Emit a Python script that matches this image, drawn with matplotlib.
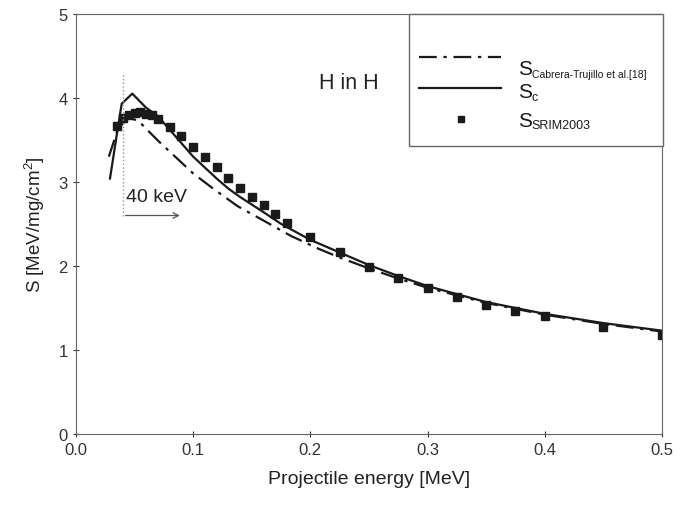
import numpy as np
import matplotlib
matplotlib.use('Agg')
from matplotlib import pyplot as plt
from matplotlib.patches import Rectangle

plt.rcParams['font.family'] = ['Liberation Sans', 'DejaVu Sans']
plt.rcParams['mathtext.fontset'] = 'custom'
plt.rcParams['mathtext.rm'] = 'Liberation Sans'

# S_c (solid)
e_sc = [0.029, 0.036, 0.039, 0.048, 0.06, 0.07, 0.08, 0.09, 0.1, 0.11, 0.12, 0.13,
        0.14, 0.15, 0.16, 0.175, 0.2, 0.225, 0.25, 0.275, 0.3, 0.35, 0.4, 0.45, 0.5]
s_sc = [3.04, 3.67, 3.93, 4.05, 3.88, 3.78, 3.62, 3.46, 3.30, 3.17, 3.04, 2.92,
        2.82, 2.73, 2.64, 2.50, 2.31, 2.16, 2.01, 1.88, 1.76, 1.57, 1.43, 1.32, 1.23]

# Cabrera-Trujillo et al. (dash-dot)
e_ct = [0.028, 0.036, 0.045, 0.053, 0.06, 0.07, 0.08, 0.09, 0.1, 0.117, 0.138, 0.16,
        0.183, 0.206, 0.225, 0.25, 0.275, 0.3, 0.35, 0.4, 0.45, 0.5]
s_ct = [3.30, 3.64, 3.76, 3.73, 3.63, 3.49, 3.36, 3.23, 3.10, 2.92, 2.71, 2.54,
        2.36, 2.21, 2.10, 1.97, 1.85, 1.74, 1.56, 1.42, 1.31, 1.22]

# SRIM2003 (squares)
e_srim = [0.035, 0.04, 0.045, 0.05, 0.055, 0.06, 0.065, 0.07, 0.08, 0.09, 0.1, 0.11,
          0.12, 0.13, 0.14, 0.15, 0.16, 0.17, 0.18, 0.2, 0.225, 0.25, 0.275, 0.3,
          0.325, 0.35, 0.375, 0.4, 0.45, 0.5]
s_srim = [3.67, 3.76, 3.80, 3.82, 3.83, 3.81, 3.79, 3.75, 3.65, 3.55, 3.42, 3.30,
          3.18, 3.05, 2.93, 2.82, 2.72, 2.62, 2.51, 2.35, 2.17, 1.99, 1.86, 1.74,
          1.63, 1.54, 1.46, 1.40, 1.27, 1.18]

xticklabels = ['0.0', '0.1', '0.2', '0.3', '0.4', '0.5']
leg_subs = ['Cabrera-Trujillo et al.[18]', 'c', 'SRIM2003']

dashdot = (0, (8, 3, 1.5, 3))
ink = '#1a1a1a'

fig = plt.figure(figsize=(6.91, 5.10), dpi=100)
ax = fig.add_axes([0.110, 0.147, 0.848, 0.824])

ax.plot(e_ct, s_ct, color=ink, lw=1.6, linestyle=dashdot)
ax.plot(e_sc, s_sc, color=ink, lw=1.6)
ax.plot(e_srim, s_srim, 's', color=ink, ms=6.3)

# 40 keV marker
ax.plot([0.04, 0.04], [2.6, 4.3], ':', color='#999999', lw=1)
ax.annotate('', xy=(0.091, 2.6), xytext=(0.04, 2.6),
            arrowprops=dict(arrowstyle='->', color='#555555', lw=0.9))
ax.text(0.043, 2.83, '40 keV', fontsize=14, color='#222222', va='center')
ax.text(0.233, 4.18, 'H in H', fontsize=15.5, color='#222222', ha='center', va='center')

ax.set_xlim(0, 0.5)
ax.set_ylim(0, 5)
ax.set_xticks(np.arange(0, 0.51, 0.1))
ax.set_xticklabels(xticklabels)
ax.set_yticks(range(6))
ax.tick_params(labelsize=12, colors='#333333', length=5, direction='inout')
for sp in ax.spines.values():
    sp.set_color('#666666')
ax.set_xlabel('Projectile energy [MeV]', fontsize=14, color='#222222', labelpad=9)
ax.set_ylabel(r'S [MeV/mg/cm$^2$]', fontsize=13.5, color='#222222', labelpad=8)

# legend box drawn by hand (empty strip on top as in the original)
ax.add_patch(Rectangle((0.568, 0.686), 0.434, 0.314, transform=ax.transAxes,
                       fill=True, facecolor='white', edgecolor='#666666', lw=1.0,
                       clip_on=False, zorder=5))
rows = [0.898, 0.824, 0.750]
ax.plot([0.585, 0.725], [rows[0]] * 2, transform=ax.transAxes, color=ink, lw=1.6,
        linestyle=dashdot, zorder=6, clip_on=False)
ax.plot([0.585, 0.725], [rows[1]] * 2, transform=ax.transAxes, color=ink, lw=1.6,
        zorder=6, clip_on=False)
ax.plot([0.657], [rows[2]], 's', transform=ax.transAxes, color=ink, ms=5,
        zorder=6, clip_on=False)
s_base = [0.857, 0.802, 0.733]
sub_base = [0.850, 0.795, 0.728]
sub_size = [7.5, 9, 9]
for sb, bb, sub, fs in zip(s_base, sub_base, leg_subs, sub_size):
    ax.text(0.754, sb, 'S', transform=ax.transAxes, fontsize=15, va='baseline',
            color=ink, zorder=7)
    ax.text(0.778, bb, sub, transform=ax.transAxes, fontsize=fs, va='baseline',
            color=ink, zorder=7)

plt.savefig('out.png', dpi=100)
